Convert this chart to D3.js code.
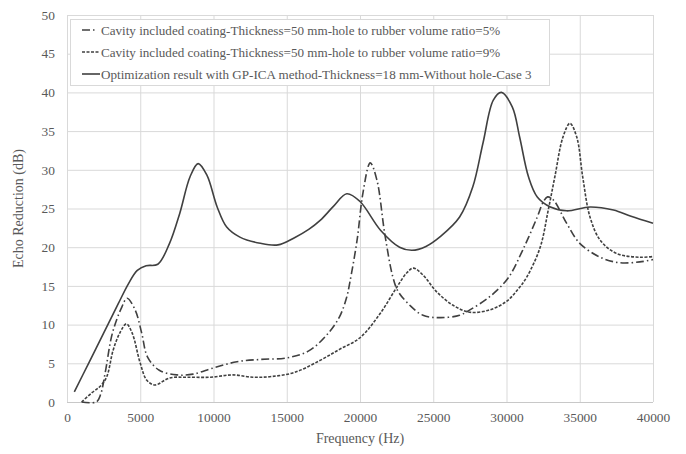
<!DOCTYPE html>
<html>
<head>
<meta charset="utf-8">
<script src="https://cdn.jsdelivr.net/npm/d3@7"></script>
<style>
  html, body { margin: 0; padding: 0; background: #fff; }
  svg { display: block; font-family: "Liberation Serif", serif; }
</style>
</head>
<body>
<svg id="chart" width="686" height="454"></svg>
<script>
// Echo reduction spectra (dB) against frequency (Hz)
const freqRatio5 = [1000, 2000, 2300, 2600, 3100, 3750, 4100, 4650, 5100, 5500, 6300, 7500, 8600, 10000, 11600, 13200, 15000, 16500, 17700, 18600, 19100, 19300, 19800, 20200, 20700, 21150, 21700, 22250, 22600, 23400, 24300, 25450, 26800, 27500, 28850, 30100, 31100, 32100, 32500, 32800, 33200, 34100, 35000, 36400, 37700, 39100, 40000];
const echoRatio5 = [0, 0, 1.0, 3.7, 8.9, 12.3, 13.4, 11.9, 8.9, 5.8, 4.1, 3.5, 3.6, 4.4, 5.2, 5.5, 5.7, 6.6, 8.6, 11.0, 13.6, 15.4, 20.9, 27.0, 30.9, 28.7, 21.6, 16.1, 14.3, 12.5, 11.2, 10.9, 11.2, 11.9, 13.6, 16.0, 19.6, 23.9, 25.8, 26.5, 26.1, 23.1, 20.5, 18.7, 18.0, 18.1, 18.4];

const freqRatio9 = [1000, 1700, 2250, 2700, 3150, 3600, 4050, 4450, 5000, 5450, 6000, 7000, 8200, 9800, 11300, 12700, 14000, 15500, 17200, 18600, 20000, 21400, 22500, 23200, 23650, 24300, 25250, 26350, 27500, 28850, 30000, 30800, 31400, 32300, 32850, 33300, 33850, 34330, 34800, 35200, 35700, 36400, 37500, 39100, 40000];
const echoRatio9 = [0, 1.2, 2.0, 3.2, 6.7, 8.9, 10.1, 8.9, 5.0, 2.8, 2.2, 3.1, 3.2, 3.2, 3.5, 3.2, 3.3, 3.8, 5.3, 6.8, 8.3, 11.5, 14.8, 16.7, 17.3, 16.4, 14.2, 12.5, 11.6, 11.9, 13.0, 14.6, 16.2, 20.0, 24.8, 29.1, 34.2, 36.0, 34.2, 29.1, 23.9, 20.9, 19.2, 18.7, 18.8];

const freqOptimized = [500, 1500, 2500, 3500, 4200, 4800, 5400, 6200, 7000, 7700, 8400, 8950, 9550, 10250, 10900, 11800, 13200, 14400, 15500, 16500, 17300, 18200, 19100, 20000, 21400, 22700, 23550, 24500, 25500, 26800, 27700, 28400, 29100, 29650, 30400, 30900, 31500, 32100, 33000, 34100, 35700, 37300, 38500, 40000];
const echoOptimized = [1.3, 5.1, 8.9, 12.7, 15.3, 17.0, 17.6, 17.8, 20.5, 24.4, 29.1, 30.8, 29.3, 25.2, 22.6, 21.3, 20.5, 20.3, 21.2, 22.3, 23.5, 25.3, 26.9, 25.9, 22.2, 20.0, 19.6, 20.1, 21.4, 23.9, 27.8, 33.5, 39.0, 40.0, 38.1, 34.2, 29.1, 26.5, 25.2, 24.7, 25.2, 24.8, 24.0, 23.1];

const seriesNames = [
  "Cavity included coating-Thickness=50 mm-hole to rubber volume ratio=5%",
  "Cavity included coating-Thickness=50 mm-hole to rubber volume ratio=9%",
  "Optimization result with GP-ICA method-Thickness=18 mm-Without hole-Case 3"
];

const xTicks = [0, 5000, 10000, 15000, 20000, 25000, 30000, 35000, 40000];
const yTicks = [0, 5, 10, 15, 20, 25, 30, 35, 40, 45, 50];

const xTitle = "Frequency (Hz)";
const yTitle = "Echo Reduction (dB)";

// Layout
const plot = { left: 67, right: 653, top: 15, bottom: 402 };
const svg = d3.select("#chart");

const x = d3.scaleLinear().domain([0, 40000]).range([plot.left, plot.right]);
const y = d3.scaleLinear().domain([0, 50]).range([plot.bottom, plot.top]);

const gridColor = "#d9d9d9";
const textColor = "#595959";
const lineColor = "#404040";

// Gridlines
const grid = svg.append("g");
grid.selectAll("line.h").data(yTicks).join("line")
  .attr("class", "h")
  .attr("x1", plot.left).attr("x2", plot.right)
  .attr("y1", d => y(d) + 0.5).attr("y2", d => y(d) + 0.5)
  .attr("stroke", d => d === 0 ? "#c8c8c8" : gridColor).attr("stroke-width", 1);
grid.selectAll("line.v").data(xTicks).join("line")
  .attr("class", "v")
  .attr("x1", d => x(d) + 0.5).attr("x2", d => x(d) + 0.5)
  .attr("y1", plot.top).attr("y2", plot.bottom)
  .attr("stroke", gridColor).attr("stroke-width", 1);

// Axes (labels only, lines come from the grid)
const xAxis = svg.append("g")
  .attr("transform", `translate(0,${plot.bottom})`)
  .call(d3.axisBottom(x).tickValues(xTicks).tickFormat(d3.format("d")).tickSize(0).tickPadding(10));
const yAxis = svg.append("g")
  .attr("transform", `translate(${plot.left},0)`)
  .call(d3.axisLeft(y).tickValues(yTicks).tickSize(0).tickPadding(12));
[xAxis, yAxis].forEach(g => {
  g.select(".domain").remove();
  g.selectAll("text").attr("fill", textColor).style("font-size", "13.4px")
    .style("font-family", "'Liberation Serif', serif");
});

// Axis titles
svg.append("text")
  .attr("x", (plot.left + plot.right) / 2).attr("y", 443)
  .attr("text-anchor", "middle").attr("fill", textColor)
  .style("font-size", "14px").text(xTitle);
svg.append("text")
  .attr("transform", `translate(23,${(plot.top + plot.bottom) / 2}) rotate(-90)`)
  .attr("text-anchor", "middle").attr("fill", textColor)
  .style("font-size", "14px").text(yTitle);

// Series
const series = [
  { f: freqRatio5, v: echoRatio5, dash: "8,3,1.5,3", width: 1.6 },
  { f: freqRatio9, v: echoRatio9, dash: "3,1.5", width: 1.6 },
  { f: freqOptimized, v: echoOptimized, dash: null, width: 1.6 }
];

const line = d3.line()
  .x(d => x(d[0])).y(d => y(d[1]))
  .curve(d3.curveCatmullRom.alpha(0.5));

series.forEach(s => {
  svg.append("path")
    .datum(s.f.map((f, i) => [f, s.v[i]]))
    .attr("d", line)
    .attr("fill", "none")
    .attr("stroke", lineColor)
    .attr("stroke-width", s.width)
    .attr("stroke-dasharray", s.dash);
});

// Legend
const legend = svg.append("g");
legend.append("rect")
  .attr("x", 70.5).attr("y", 19.5).attr("width", 479).attr("height", 66)
  .attr("fill", "#fff").attr("stroke", gridColor);
const rowY = [30, 52, 74];
series.forEach((s, i) => {
  legend.append("line")
    .attr("x1", 82).attr("x2", i === 0 ? 97 : 100)
    .attr("y1", rowY[i]).attr("y2", rowY[i])
    .attr("stroke", lineColor).attr("stroke-width", s.width)
    .attr("stroke-dasharray", s.dash);
  legend.append("text")
    .attr("x", 101).attr("y", rowY[i] + 4.5)
    .attr("fill", textColor).style("font-size", "13.1px")
    .text(seriesNames[i]);
});
</script>
</body>
</html>
